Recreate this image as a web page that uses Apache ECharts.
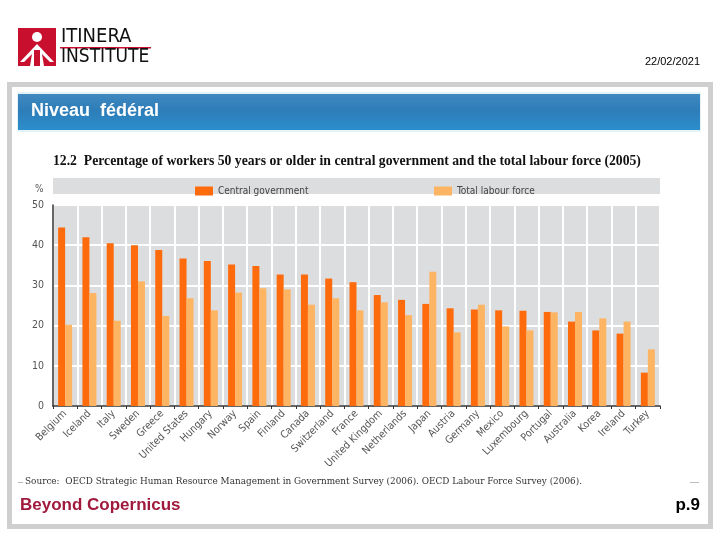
<!DOCTYPE html>
<html><head><meta charset="utf-8">
<script src="https://cdn.jsdelivr.net/npm/echarts@6/dist/echarts.min.js"></script>
<style>html,body{margin:0;padding:0;background:#fff}#c{width:720px;height:540px}</style>
</head><body><div id="c"></div>
<script>
const categories = ['Belgium','Iceland','Italy','Sweden','Greece','United States','Hungary','Norway','Spain','Finland','Canada','Switzerland','France','United Kingdom','Netherlands','Japan','Austria','Germany','Mexico','Luxembourg','Portugal','Australia','Korea','Ireland','Turkey'];
const centralGov = [44.4,42.0,40.5,40.0,38.8,36.7,36.1,35.2,34.8,32.7,32.7,31.7,30.8,27.6,26.4,25.4,24.3,24.0,23.8,23.7,23.4,21.0,18.8,18.0,8.3];
const labourForce = [20.2,28.1,21.2,31.0,22.4,26.8,23.8,28.2,29.3,29.0,25.2,26.8,23.8,25.8,22.6,33.4,18.3,25.2,19.8,18.8,23.3,23.4,21.8,21.0,14.1];
const yTicks = [0,10,20,30,40,50];

const chart = echarts.init(document.getElementById('c'), null, {renderer:'canvas'});
const cond = '"DejaVu Sans Condensed", "Liberation Sans Narrow", sans-serif';
chart.setOption({
  animation:false,
  backgroundColor:'#fff',
  graphic:[
    {type:'rect', shape:{x:9.5,y:84.5,width:701,height:442}, style:{fill:'#fff',stroke:'#cfcfcf',lineWidth:5}, z:-10},
    {type:'rect', shape:{x:17,y:92,width:684,height:40}, style:{fill:'#e3f3f8'}, z:-5},
    {type:'rect', shape:{x:18,y:94,width:682,height:36}, style:{fill:{type:'linear',x:0,y:0,x2:0,y2:1,colorStops:[{offset:0,color:'#4088c0'},{offset:0.45,color:'#2d7db8'},{offset:1,color:'#2b8ecb'}]}}, z:-4},
    {type:'text', left:31, top:102, style:{text:'Niveau  fédéral', fill:'#fff', font:'bold 18px "Liberation Sans", Arial, sans-serif'}},
    {type:'rect', shape:{x:18,y:28,width:38,height:38}, style:{fill:'#c8102e'}},
    {type:'circle', shape:{cx:37,cy:37,r:5}, style:{fill:'#fff'}},
    {type:'polygon', shape:{points:[[20,62],[37,44],[54,62],[50,62],[37,49],[24,62]]}, style:{fill:'#fff'}},
    {type:'polygon', shape:{points:[[33,48],[41,48],[44,66],[30,66]]}, style:{fill:'#fff'}},
    {type:'rect', shape:{x:34,y:50,width:6,height:16}, style:{fill:'#c8102e'}},
    {type:'text', left:61, top:27, style:{text:'ITINERA', fill:'#111', font:'20px "DejaVu Sans Condensed", sans-serif'}},
    {type:'rect', shape:{x:60,y:47,width:91,height:1.5}, style:{fill:'#c8102e'}},
    {type:'text', left:61, top:48, style:{text:'INSTITUTE', fill:'#111', font:'19px "DejaVu Sans Condensed", sans-serif'}},
    {type:'text', right:20, top:56, style:{text:'22/02/2021', fill:'#000', font:'11px "Liberation Sans", Arial, sans-serif'}},
    {type:'text', left:53, top:154, style:{text:'12.2  Percentage of workers 50 years or older in central government and the total labour force (2005)', fill:'#111', font:'bold 13.7px "Liberation Serif", "DejaVu Serif", serif'}},
    {type:'rect', shape:{x:53,y:178,width:607,height:16}, style:{fill:'#dcdddf'}, z:-1},
    {type:'text', left:35, top:184, style:{text:'%', fill:'#555', font:'10px '+cond}},
    {type:'rect', shape:{x:18,y:482,width:5,height:1}, style:{fill:'#bbb'}},
    {type:'rect', shape:{x:690,y:482,width:9,height:1}, style:{fill:'#bbb'}},
    {type:'text', left:25, top:477, style:{text:'Source:  OECD Strategic Human Resource Management in Government Survey (2006). OECD Labour Force Survey (2006).', fill:'#333', font:'8.9px "DejaVu Serif", serif'}},
    {type:'text', left:20, top:497, style:{text:'Beyond Copernicus', fill:'#a01a3c', font:'bold 17px "Liberation Sans", Arial, sans-serif'}},
    {type:'text', right:20, top:497, style:{text:'p.9', fill:'#000', font:'bold 17px "Liberation Sans", Arial, sans-serif'}}
  ],
  legend:[
    {data:['Central government'], left:190, top:181, itemWidth:18, itemHeight:9, icon:'rect', textStyle:{fontFamily:cond, fontSize:10, color:'#444'}},
    {data:['Total labour force'], left:429, top:181, itemWidth:18, itemHeight:9, icon:'rect', textStyle:{fontFamily:cond, fontSize:10, color:'#444'}}
  ],
  grid:{left:53, top:205, width:607, height:201, show:true, backgroundColor:'#dcdddf', borderWidth:0, containLabel:false},
  xAxis:{type:'category', data:categories, boundaryGap:true,
    axisLine:{show:true, lineStyle:{color:'#333', width:1.5}},
    axisTick:{show:true, length:3, lineStyle:{color:'#333'}},
    splitLine:{show:true, lineStyle:{color:'#fff', width:2}},
    axisLabel:{rotate:45, interval:0, fontFamily:cond, fontSize:10.5, color:'#555', margin:6}},
  yAxis:{type:'value', min:0, max:50, interval:10,
    axisLine:{show:true, lineStyle:{color:'#333', width:1.5}},
    axisTick:{show:false},
    splitLine:{show:true, lineStyle:{color:'#fff', width:2}},
    axisLabel:{fontFamily:cond, fontSize:10.5, color:'#555', margin:9, formatter:v=> yTicks.includes(v)? String(v):''}},
  series:[
    {name:'Central government', type:'bar', data:centralGov, barWidth:7, barGap:'0%', itemStyle:{color:'#fd6b0c'}},
    {name:'Total labour force', type:'bar', data:labourForce, barWidth:7, barGap:'0%', itemStyle:{color:'#fdb463'}}
  ]
});
</script></body></html>
